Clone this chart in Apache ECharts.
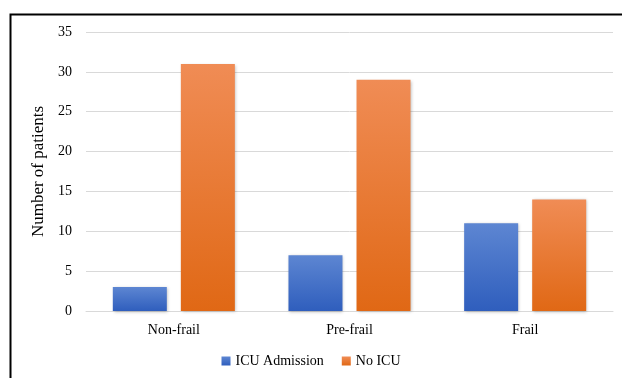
<!DOCTYPE html>
<html>
<head>
<meta charset="utf-8">
<script src="https://cdn.jsdelivr.net/npm/echarts@6/dist/echarts.min.js"></script>
<style>
  html, body { margin: 0; padding: 0; background: #fff; }
  #chart { width: 622px; height: 378px; }
</style>
</head>
<body>
<div id="chart"></div>
<script>
// chart data
const categories = ['Non-frail', 'Pre-frail', 'Frail'];
const icuAdmission = [3, 7, 11];
const noIcu = [31, 29, 14];
const yTicks = { min: 0, max: 35, interval: 5 };

const font = '"Liberation Serif", "Times New Roman", serif';

const gradient = (top, bottom) => new echarts.graphic.LinearGradient(0, 0, 0, 1, [
    { offset: 0, color: top },
    { offset: 1, color: bottom }
]);

const barStyle = (top, bottom) => ({
    color: gradient(top, bottom),
    shadowColor: 'rgba(0,0,0,0.25)',
    shadowBlur: 3,
    shadowOffsetX: 1,
    shadowOffsetY: 1
});

const chart = echarts.init(document.getElementById('chart'));
chart.setOption({
    animation: false,
    textStyle: { fontFamily: font, color: '#000' },
    graphic: [{
        type: 'rect',
        left: 8,
        top: 12,
        shape: { width: 700, height: 500 },
        style: { fill: 'none', stroke: '#000', lineWidth: 2 },
        silent: true
    }],
    grid: { left: 86, right: 9, top: 32, bottom: 67 },
    legend: {
        bottom: 5,
        left: 'center',
        itemWidth: 9,
        itemHeight: 9,
        itemGap: 18,
        icon: 'rect',
        textStyle: { fontFamily: font, fontSize: 14, color: '#000' },
        data: ['ICU Admission', 'No ICU']
    },
    xAxis: {
        type: 'category',
        data: categories,
        axisTick: { show: false },
        axisLine: { lineStyle: { color: '#d9d9d9', width: 1 } },
        axisLabel: { fontFamily: font, fontSize: 14, color: '#000', margin: 12 }
    },
    yAxis: {
        type: 'value',
        min: yTicks.min,
        max: yTicks.max,
        interval: yTicks.interval,
        name: 'Number of patients',
        nameLocation: 'middle',
        nameGap: 35,
        nameTextStyle: { fontFamily: font, fontSize: 17, color: '#000' },
        axisLine: { show: false },
        axisTick: { show: false },
        axisLabel: { fontFamily: font, fontSize: 14, color: '#000', margin: 14 },
        splitLine: { lineStyle: { color: '#d9d9d9', width: 1 } }
    },
    series: [{
        name: 'ICU Admission',
        type: 'bar',
        data: icuAdmission,
        barWidth: 54,
        barGap: '26%',
        itemStyle: barStyle('#5d86d2', '#2f5ebd')
    }, {
        name: 'No ICU',
        type: 'bar',
        data: noIcu,
        barWidth: 54,
        itemStyle: barStyle('#f08c55', '#e06815')
    }]
});
</script>
</body>
</html>
